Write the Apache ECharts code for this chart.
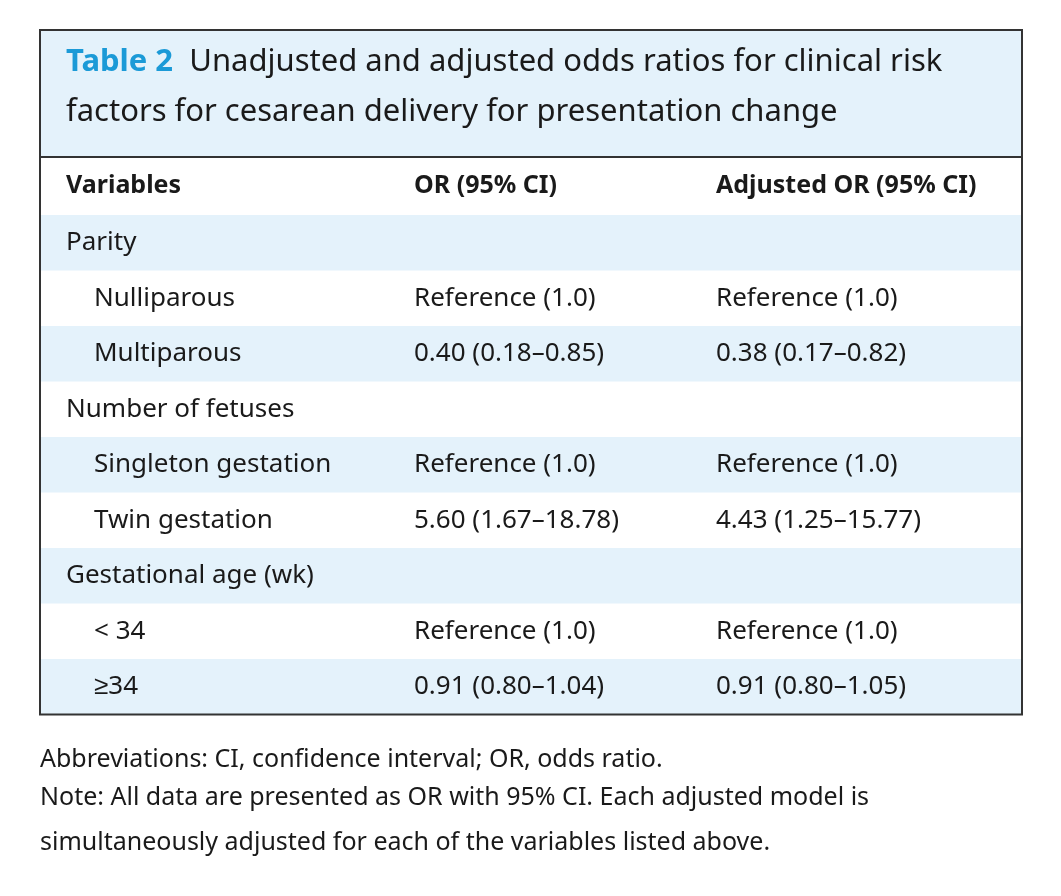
<!DOCTYPE html>
<html><head><meta charset="utf-8">
<script src="https://cdn.jsdelivr.net/npm/echarts@6/dist/echarts.min.js"></script>
<style>html,body{margin:0;padding:0;background:#fff}#c{width:1061px;height:896px}</style>
</head><body><div id="c"></div>
<script>
// table content
const titleLines = ['Unadjusted and adjusted odds ratios for clinical risk', 'factors for cesarean delivery for presentation change'];
const headers = ['Variables', 'OR (95% CI)', 'Adjusted OR (95% CI)'];
const labels = ['Parity', 'Nulliparous', 'Multiparous', 'Number of fetuses', 'Singleton gestation', 'Twin gestation', 'Gestational age (wk)', '< 34', '\u226534'];
const indent = [0, 1, 1, 0, 1, 1, 0, 1, 1];
const orCol = ['', 'Reference (1.0)', '0.40 (0.18\u20130.85)', '', 'Reference (1.0)', '5.60 (1.67\u201318.78)', '', 'Reference (1.0)', '0.91 (0.80\u20131.04)'];
const adjCol = ['', 'Reference (1.0)', '0.38 (0.17\u20130.82)', '', 'Reference (1.0)', '4.43 (1.25\u201315.77)', '', 'Reference (1.0)', '0.91 (0.80\u20131.05)'];
const notes = ['Abbreviations: CI, confidence interval; OR, odds ratio.', 'Note: All data are presented as OR with 95% CI. Each adjusted model is', 'simultaneously adjusted for each of the variables listed above.'];

const font = '"Noto Sans", sans-serif';
const boxL = 40, boxR = 1022, boxT = 30, titleBottom = 157, headH = 58, rowH = 55.5;
const colX = [66, 414, 716];
const blue = '#e4f2fb';
const g = [];
g.push({type: 'rect', shape: {x: boxL, y: boxT, width: boxR - boxL, height: titleBottom - boxT}, style: {fill: blue}});
const y0 = titleBottom + headH;
labels.forEach((l, i) => {
  const y = y0 + i * rowH;
  if (i % 2 === 0) g.push({type: 'rect', shape: {x: boxL, y: y, width: boxR - boxL, height: rowH}, style: {fill: blue}});
  const cy = y + rowH / 2;
  g.push({type: 'text', x: colX[0] + indent[i] * 28, y: cy, style: {text: l, font: '26px ' + font, fill: '#1a1a1a', verticalAlign: 'middle'}});
  g.push({type: 'text', x: colX[1], y: cy, style: {text: orCol[i], font: '26px ' + font, fill: '#1a1a1a', verticalAlign: 'middle'}});
  g.push({type: 'text', x: colX[2], y: cy, style: {text: adjCol[i], font: '26px ' + font, fill: '#1a1a1a', verticalAlign: 'middle'}});
});
const boxB = y0 + labels.length * rowH;
headers.forEach((h, j) => g.push({type: 'text', x: colX[j], y: titleBottom + headH / 2, style: {text: h, font: 'bold 25px ' + font, fill: '#1a1a1a', verticalAlign: 'middle'}}));
g.push({type: 'text', x: 66, y: 62, style: {rich: {b: {font: 'bold 31px ' + font, fill: '#1b9ad7'}, t: {font: '31px ' + font, fill: '#1a1a1a'}}, text: '{b|Table 2}{t|  ' + titleLines[0] + '}', verticalAlign: 'middle'}});
g.push({type: 'text', x: 66, y: 112, style: {text: titleLines[1], font: '31px ' + font, fill: '#1a1a1a', verticalAlign: 'middle'}});
g.push({type: 'line', shape: {x1: boxL, y1: titleBottom, x2: boxR, y2: titleBottom}, style: {stroke: '#333', lineWidth: 2}});
g.push({type: 'rect', shape: {x: boxL, y: boxT, width: boxR - boxL, height: boxB - boxT}, style: {fill: 'none', stroke: '#333', lineWidth: 2}});
notes.forEach((n, i) => g.push({type: 'text', x: 40, y: [760, 798, 843][i], style: {text: n, font: '25px ' + font, fill: '#1a1a1a', verticalAlign: 'middle'}}));

const chart = echarts.init(document.getElementById('c'));
chart.setOption({graphic: g});
</script></body></html>
